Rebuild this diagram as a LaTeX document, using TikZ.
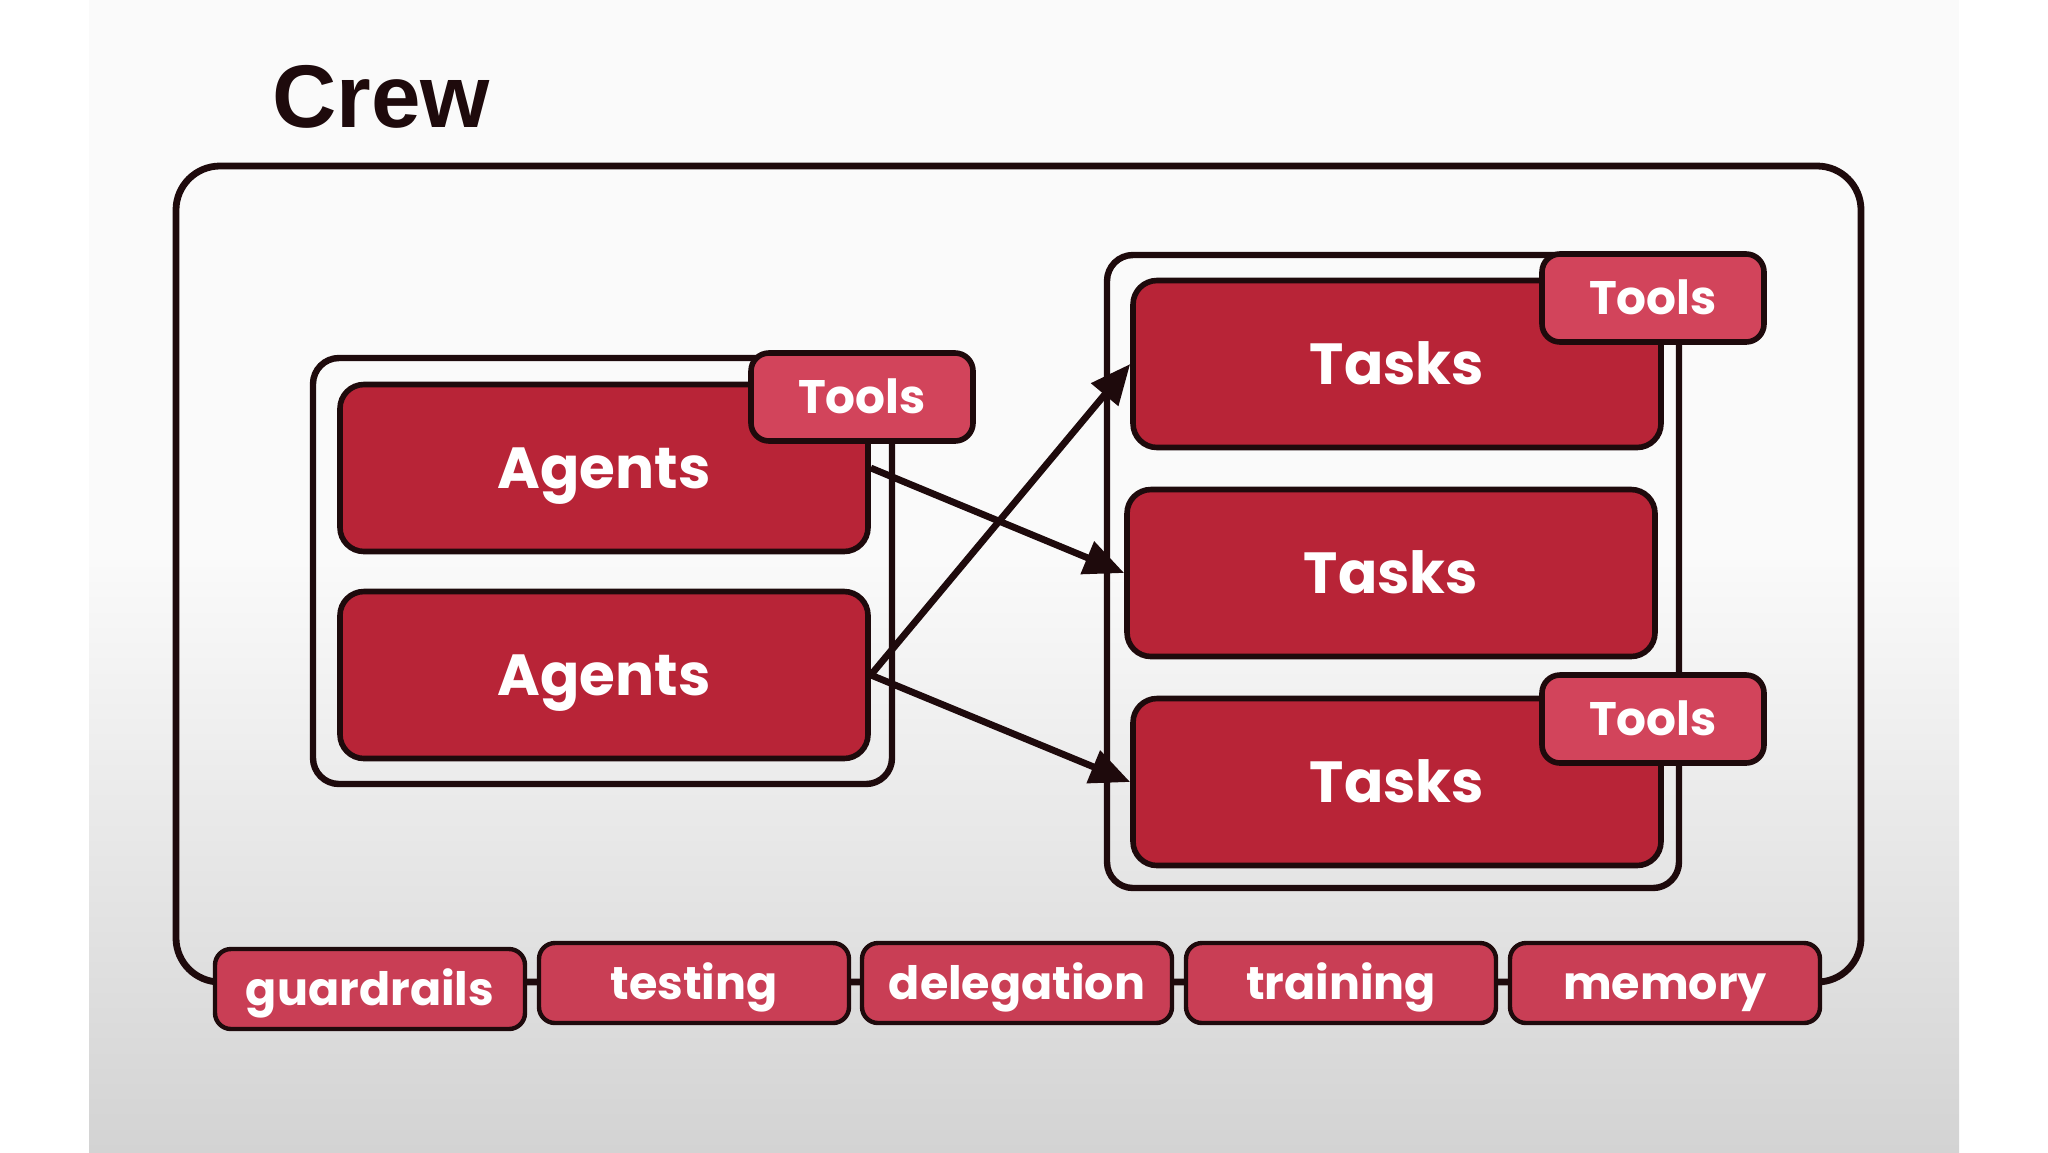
\documentclass[tikz,border=0pt]{standalone}
\usepackage{fontspec}
\newfontfamily\popf{Poppins}
\newfontfamily\arialf{Liberation Sans}
\usetikzlibrary{arrows.meta}
\definecolor{ink}{HTML}{1E0A0C}
\definecolor{boxred}{HTML}{B82437}
\definecolor{toolred}{HTML}{D2445B}
\definecolor{chipred}{HTML}{C93E55}
\definecolor{bgtop}{HTML}{FAFAFA}
\definecolor{bgbot}{HTML}{D3D3D3}
\begin{document}
\begin{tikzpicture}[x=0.5pt,y=-0.5pt,
  container/.style={draw=ink, line width=3.2pt, rounded corners=13pt},
  bigbox/.style={draw=ink, line width=2.8pt, rounded corners=12pt, fill=boxred,
    text=white, font=\popf\bfseries\fontsize{29}{34}\selectfont,
    text height=20.3pt, text depth=0pt,
    minimum width=264pt, minimum height=83.5pt, inner sep=0pt},
  toolbox/.style={draw=ink, line width=2.8pt, rounded corners=9pt, fill=toolred,
    text=white, font=\popf\bfseries\fontsize{23.5}{28}\selectfont,
    text height=16.5pt, text depth=0pt,
    minimum width=111pt, minimum height=44pt, inner sep=0pt},
  chip/.style={draw=ink, line width=2.2pt, rounded corners=8pt, fill=chipred,
    text=white, font=\popf\bfseries\fontsize{23}{28}\selectfont,
    text height=16.5pt, text depth=0pt,
    minimum width=155pt, minimum height=40pt, inner sep=0pt},
  arr/.style={draw=ink, line width=3.4pt, -{Triangle[length=20pt,width=17pt]}}
]
\useasboundingbox (0,0) rectangle (2048,1152);
% background
\fill[white] (0,0) rectangle (2048,1152);
\fill[bgtop] (89,0) rectangle (1959,560);
\shade[top color=bgtop, bottom color=bgbot] (89,559) rectangle (1959,1152);

% title
\node[anchor=base west, font=\arialf\bfseries\fontsize{44.5}{50}\selectfont,
  text=ink, inner sep=0pt] (crew) at (272,127) {Crew};

% outer crew box
\draw[container, line width=3.4pt, rounded corners=22pt] (176,166) rectangle (1861,982);

% containers
\draw[container] (313,358) rectangle (892,784);
\draw[container] (1107,255) rectangle (1679,888);

% agents
\node[bigbox] (a1) at (604,468) {Agents};
\node[bigbox] (a2) at (604,675) {Agents};

% tasks
\node[bigbox] (t1) at (1397,364) {Tasks};
\node[bigbox] (t2) at (1391,573) {Tasks};
\node[bigbox] (t3) at (1397,782) {Tasks};

% tools
\node[toolbox] (ta) at (862,397) {Tools};
\node[toolbox] (tt1) at (1653,298) {Tools};
\node[toolbox] (tt3) at (1653,719) {Tools};

% arrows
\draw[arr] (a1.east) -- (t2.west);
\draw[arr] (a2.east) -- (t1.west);
\draw[arr] (a2.east) -- (t3.west);

% chips
\node[chip] (c1) at (370,989) {guardrails};
\node[chip] (c2) at (694,983) {testing};
\node[chip] (c3) at (1017,983) {delegation};
\node[chip] (c4) at (1341,983) {training};
\node[chip] (c5) at (1665,983) {memory};
\end{tikzpicture}
\end{document}
